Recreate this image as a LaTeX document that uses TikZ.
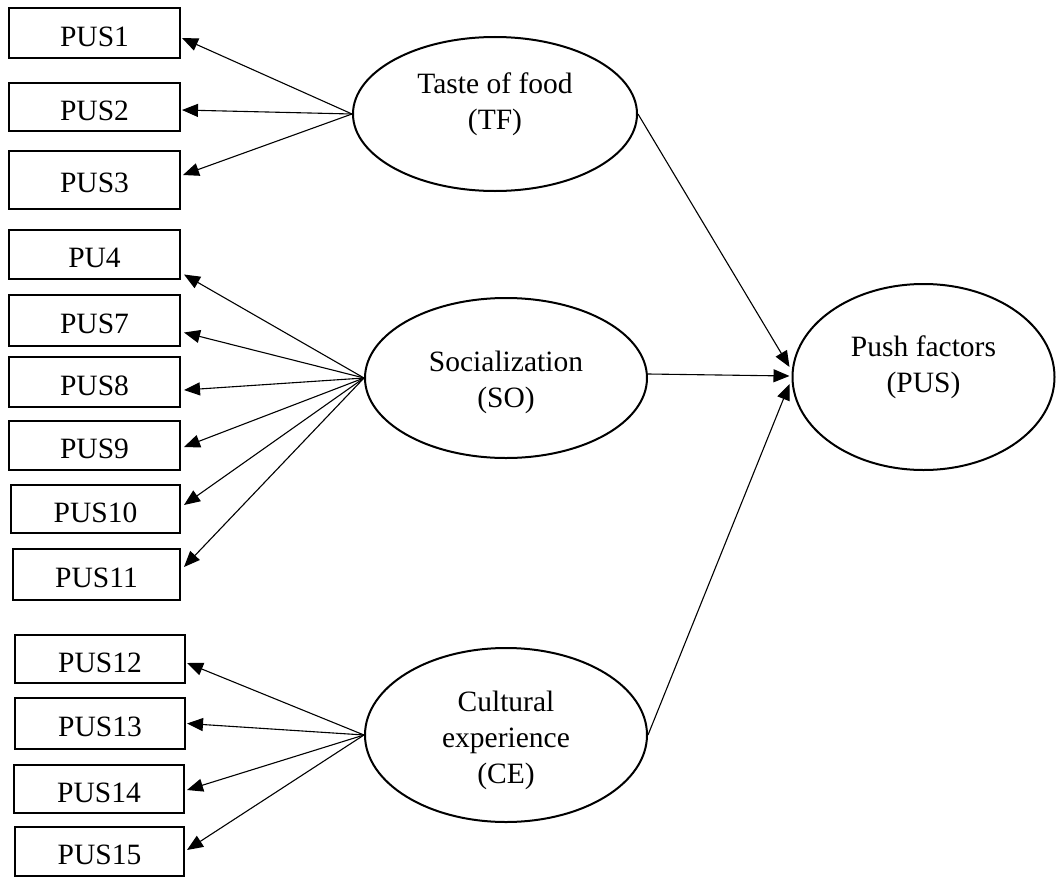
\documentclass[tikz,border=0pt]{standalone}
\usepackage{fontspec}
\setmainfont{Liberation Serif}
\usetikzlibrary{shapes.geometric,arrows.meta}

\begin{document}
\begin{tikzpicture}[x=1bp,y=-1bp,
  every node/.style={font=\fontsize{29.5bp}{36bp}\selectfont},
  ind/.style={draw, line width=2bp, rectangle, inner sep=0pt,
    minimum width=171bp, minimum height=50bp,
    text height=26bp, text depth=0bp},
  lat/.style={draw, line width=2bp, ellipse, inner sep=0pt},
  lattxt/.style={align=center, inner sep=0pt},
  arr/.style={line width=1.1bp, -{Triangle[length=16bp,width=13bp]}}]

\useasboundingbox (0,0) rectangle (1056,878);

% indicator boxes
\node[ind, minimum height=50bp] (b1)  at (94.5,33)    {PUS1};
\node[ind, minimum height=48bp] (b2)  at (94.5,107)   {PUS2};
\node[ind, minimum height=58bp, text height=24bp] (b3)  at (94.5,180)   {PUS3};
\node[ind, minimum height=49bp] (b4)  at (94.5,254.5) {PU4};
\node[ind, minimum height=51bp] (b7)  at (94.5,320.5) {PUS7};
\node[ind, minimum height=50bp] (b8)  at (94.5,382)   {PUS8};
\node[ind, minimum height=49bp] (b9)  at (94.5,445.5) {PUS9};
\node[ind, minimum width=169bp, minimum height=48bp] (b10) at (95.5,509)   {PUS10};
\node[ind, minimum width=167bp, minimum height=51bp] (b11) at (96.5,574.5) {PUS11};
\node[ind, minimum width=170bp, minimum height=48bp] (b12) at (100,659)    {PUS12};
\node[ind, minimum width=170bp, minimum height=51bp] (b13) at (100,723.5)  {PUS13};
\node[ind, minimum width=170bp, minimum height=48bp] (b14) at (99,789)     {PUS14};
\node[ind, minimum width=169bp, minimum height=49bp] (b15) at (99.5,851.5) {PUS15};

% latent constructs
\node[lat, minimum width=284bp, minimum height=154bp] (TF)  at (495,114) {};
\node[lat, minimum width=282bp, minimum height=160bp] (SO)  at (506,378) {};
\node[lat, minimum width=282bp, minimum height=174bp] (CE)  at (506,735) {};
\node[lat, minimum width=262bp, minimum height=186bp] (PUS) at (923.5,377) {};

\node[lattxt] (TFt)  at ([shift={(0,-10)}]TF.center)  {Taste of food\\(TF)};
\node[lattxt] (SOt)  at ([shift={(0,4)}]SO.center)    {Socialization\\(SO)};
\node[lattxt] (CEt)  at ([shift={(0,5)}]CE.center)    {Cultural\\experience\\(CE)};
\node[lattxt] (PUSt) at ([shift={(0,-9.5)}]PUS.center) {Push factors\\(PUS)};

% loadings: Taste of food
\draw[arr] (TF.west) -- ([shift={(1,5)}]b1.east);
\draw[arr] (TF.west) -- ([shift={(1,3)}]b2.east);
\draw[arr] (TF.west) -- ([shift={(2,-5)}]b3.east);

% loadings: Socialization
\draw[arr] (SO.west) -- ([shift={(3,20)}]b4.east);
\draw[arr] (SO.west) -- ([shift={(3,12)}]b7.east);
\draw[arr] (SO.west) -- ([shift={(3,8)}]b8.east);
\draw[arr] (SO.west) -- ([shift={(3,1.5)}]b9.east);
\draw[arr] (SO.west) -- ([shift={(3,-4)}]b10.east);
\draw[arr] (SO.west) -- ([shift={(3,-7.5)}]b11.east);

% loadings: Cultural experience
\draw[arr] (CE.west) -- ([shift={(1,4)}]b12.east);
\draw[arr] (CE.west) -- ([shift={(1,0)}]b13.east);
\draw[arr] (CE.west) -- ([shift={(2,1)}]b14.east);
\draw[arr] (CE.west) -- ([shift={(2,-1.5)}]b15.east);

% structural paths
\draw[arr] (TF.east) -- ([shift={(-2,-10)}]PUS.west);
\draw[arr] ([shift={(0,-4)}]SO.east) -- ([shift={(-2,-1)}]PUS.west);
\draw[arr] (CE.east) -- ([shift={(-2,7)}]PUS.west);

\end{tikzpicture}
\end{document}
